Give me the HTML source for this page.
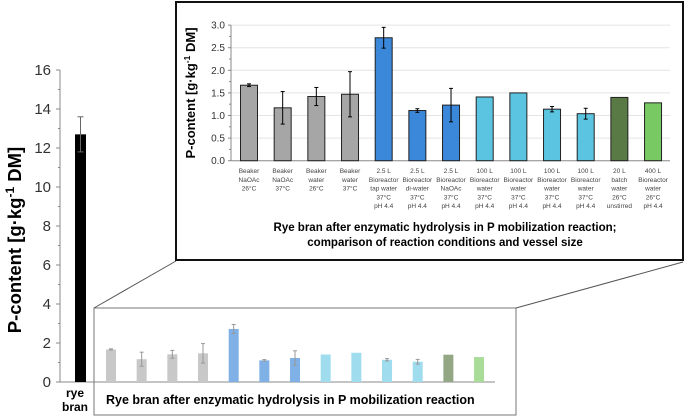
<!DOCTYPE html>
<html><head><meta charset="utf-8">
<style>
html,body{margin:0;padding:0;background:#fff;width:685px;height:417px;overflow:hidden}
svg{display:block;font-family:"Liberation Sans",sans-serif}
</style></head>
<body>
<svg id="c" width="685" height="417" viewBox="0 0 685 417" xmlns="http://www.w3.org/2000/svg"></svg>
<script>
const mainCats=["rye bran"];
const mainVals=[12.7];
const mainErr=[0.9];
const mainTicks=[0,2,4,6,8,10,12,14,16];
const labels=[["Beaker","NaOAc","26°C"],["Beaker","NaOAc","37°C"],["Beaker","water","26°C"],["Beaker","water","37°C"],["2.5 L","Bioreactor","tap water","37°C","pH 4.4"],["2.5 L","Bioreactor","di-water","37°C","pH 4.4"],["2.5 L","Bioreactor","NaOAc","37°C","pH 4.4"],["100 L","Bioreactor","water","37°C","pH 4.4"],["100 L","Bioreactor","water","37°C","pH 4.4"],["100 L","Bioreactor","water","37°C","pH 4.4"],["100 L","Bioreactor","water","37°C","pH 4.4"],["20 L","batch","water","26°C","unstirred"],["400 L","Bioreactor","water","26°C","pH 4.4"]];
const vals=[1.67,1.17,1.42,1.47,2.72,1.11,1.23,1.41,1.50,1.14,1.04,1.40,1.28];
const errs=[0.03,0.36,0.2,0.5,0.23,0.04,0.37,0,0,0.06,0.12,0,0];
const groups=[0,0,0,0,1,1,1,2,2,2,2,3,4];
const insetTicks=[0,0.5,1,1.5,2,2.5,3];
const colors=["#a6a6a6","#3b87d9","#5bc4e0","#5a7a45","#78c863"];
const pale=["#c8c8c8","#7fb0e6","#9edcee","#93a784","#a8dc98"];
const svg=document.getElementById('c');
const NS="http://www.w3.org/2000/svg";
function mk(t,a,p){const e=document.createElementNS(NS,t);for(const k in a)e.setAttribute(k,a[k]);(p||svg).appendChild(e);return e;}
const y0=382,ppu=19.5;
const yM=v=>y0-v*ppu;
let e;
e=mk('line',{x1:60,y1:yM(16),x2:60,y2:y0,stroke:'#888','stroke-width':1});

e=mk('line',{x1:56,y1:y0,x2:95,y2:y0,stroke:'#888','stroke-width':1});

mainTicks.forEach((t,k)=>{
 mk('line',{x1:56,y1:yM(t),x2:60,y2:yM(t),stroke:'#888'});
 if(k<mainTicks.length-1)mk('line',{x1:58,y1:yM(t+1),x2:60,y2:yM(t+1),stroke:'#888'});
 e=mk('text',{x:51,y:yM(t)+5,'text-anchor':'end','font-size':15,fill:'#333'});e.textContent=t;
 
});
mainVals.forEach((v,i)=>{
 const cx=80.5;
 e=mk('rect',{x:cx-5.5,y:yM(v),width:11,height:v*ppu,fill:'#000'});
 
 mk('line',{x1:cx,y1:yM(v+mainErr[i]),x2:cx,y2:yM(v-mainErr[i]),stroke:'#666'});
 mk('line',{x1:cx-3,y1:yM(v+mainErr[i]),x2:cx+3,y2:yM(v+mainErr[i]),stroke:'#666'});
 mk('line',{x1:cx-3,y1:yM(v-mainErr[i]),x2:cx+3,y2:yM(v-mainErr[i]),stroke:'#666'});
});
e=mk('text',{x:75,y:397,'text-anchor':'middle','font-size':12,'font-weight':'bold'});e.textContent='rye';

e=mk('text',{x:75,y:411,'text-anchor':'middle','font-size':12,'font-weight':'bold'});e.textContent='bran';

e=mk('text',{transform:'translate(21,240) rotate(-90)','text-anchor':'middle','font-size':18.5,'font-weight':'bold'});
e.innerHTML='P-content [g·kg<tspan dy="-7" font-size="12">-1</tspan><tspan dy="7"> DM]</tspan>';

e=mk('rect',{x:94,y:308,width:422,height:107,fill:'none',stroke:'#777'});

e=mk('line',{x1:94,y1:308,x2:176,y2:261,stroke:'#555'});

e=mk('line',{x1:683,y1:262,x2:516,y2:308,stroke:'#555'});

mk('line',{x1:95,y1:y0,x2:495,y2:y0,stroke:'#888'});
vals.forEach((v,i)=>{
 const cx=111+i*30.67;
 e=mk('rect',{x:cx-5,y:yM(v),width:10,height:v*ppu,fill:pale[groups[i]]});
 
 if(errs[i]>0){const a=yM(v+errs[i]),b=yM(v-errs[i]);
  mk('line',{x1:cx,y1:a,x2:cx,y2:b,stroke:'#999'});
  mk('line',{x1:cx-2,y1:a,x2:cx+2,y2:a,stroke:'#999'});
  mk('line',{x1:cx-2,y1:b,x2:cx+2,y2:b,stroke:'#999'});}
});
e=mk('text',{x:106,y:404,'font-size':12.5,'font-weight':'bold'});e.textContent='Rye bran after enzymatic hydrolysis in P mobilization reaction';

e=mk('rect',{x:176,y:2,width:507,height:258,fill:'#fff',stroke:'#111','stroke-width':2});

const iy0=160.7,ipu=45.2;const yI=v=>iy0-v*ipu;
insetTicks.forEach((t,k)=>{
 if(t>0)mk('line',{x1:231,y1:yI(t),x2:670,y2:yI(t),stroke:'#e4e4e4'});
 mk('line',{x1:228,y1:yI(t),x2:231,y2:yI(t),stroke:'#888'});
 if(k<insetTicks.length-1)mk('line',{x1:229,y1:yI(t+0.25),x2:231,y2:yI(t+0.25),stroke:'#888'});
 e=mk('text',{x:225,y:yI(t)+3.5,'text-anchor':'end','font-size':10,fill:'#333'});e.textContent=t.toFixed(1);
 
});
mk('line',{x1:231,y1:yI(3),x2:231,y2:iy0,stroke:'#888'});
mk('line',{x1:231,y1:iy0,x2:670,y2:iy0,stroke:'#888'});
vals.forEach((v,i)=>{
 const cx=249+i*33.67;
 e=mk('rect',{x:cx-8.5,y:yI(v),width:17,height:v*ipu,fill:colors[groups[i]],stroke:'#222','stroke-width':1});
 
 if(errs[i]>0){const a=yI(v+errs[i]),b=yI(v-errs[i]);
  mk('line',{x1:cx,y1:a,x2:cx,y2:b,stroke:'#000'});
  mk('line',{x1:cx-2,y1:a,x2:cx+2,y2:a,stroke:'#000'});
  mk('line',{x1:cx-2,y1:b,x2:cx+2,y2:b,stroke:'#000'});}
 labels[i].forEach((l,j)=>{
  e=mk('text',{x:cx,y:173+j*8.8,'text-anchor':'middle','font-size':6.5,fill:'#444'});e.textContent=l;
  
 });
});
e=mk('text',{transform:'translate(195,93) rotate(-90)','text-anchor':'middle','font-size':13,'font-weight':'bold'});
e.innerHTML='P-content [g·kg<tspan dy="-5" font-size="8.5">-1</tspan><tspan dy="5"> DM]</tspan>';

e=mk('text',{x:445,y:231,'text-anchor':'middle','font-size':11.5,'font-weight':'bold'});e.textContent='Rye bran after enzymatic hydrolysis in P mobilization reaction;';

e=mk('text',{x:445,y:246,'text-anchor':'middle','font-size':11.5,'font-weight':'bold'});e.textContent='comparison of reaction conditions and vessel size';

</script>
</body></html>
